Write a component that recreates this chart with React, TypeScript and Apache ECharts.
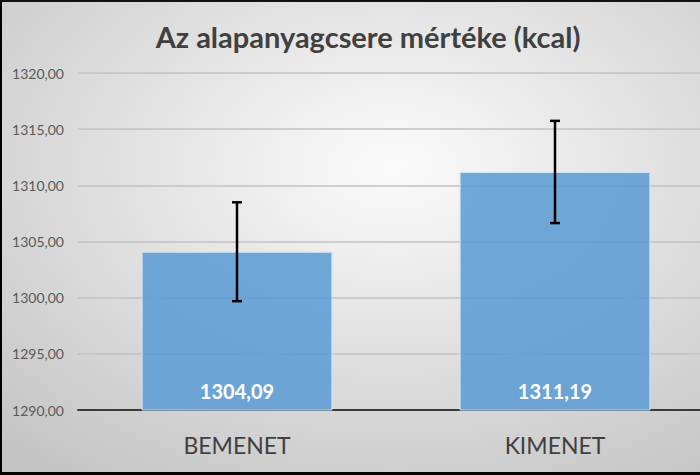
import React, { useEffect, useRef } from "react";
import * as echarts from "echarts";

const categories = ["BEMENET", "KIMENET"];
const values = [1304.09, 1311.19];
const errors = [4.4, 4.55];
const yTicks = { min: 1290, max: 1320, interval: 5 };
const titleText = "Az alapanyagcsere mértéke (kcal)";

const FONT = "Lato, 'Open Sans', sans-serif";

export default function App() {
  const ref = useRef<HTMLDivElement>(null);
  useEffect(() => {
    if (!ref.current) return;
    const chart = echarts.init(ref.current, null, { renderer: "svg" });
    const fmt = (v: number) => v.toFixed(2).replace(".", ",");
    chart.setOption({
      animation: false,
      backgroundColor: {
        type: "radial",
        x: 0.55,
        y: 0.35,
        r: 0.8,
        colorStops: [
          { offset: 0, color: "#fbfbfb" },
          { offset: 1, color: "#c4c4c4" },
        ],
      },
      title: {
        text: titleText,
        left: 363,
        top: 17,
        textAlign: "center",
        textStyle: { fontFamily: FONT, fontSize: 29, fontWeight: "bold", color: "#404040" },
      },
      grid: { left: 78, top: 73, right: 0, bottom: 65, containLabel: false },
      xAxis: {
        type: "category",
        data: categories,
        axisLine: { lineStyle: { color: "#3a3a3a", width: 2 } },
        axisTick: { show: false },
        axisLabel: { fontFamily: FONT, fontSize: 23, color: "#404040", margin: 23 },
      },
      yAxis: {
        type: "value",
        min: yTicks.min,
        max: yTicks.max,
        interval: yTicks.interval,
        axisLine: { show: false },
        axisTick: { show: false },
        axisLabel: { fontFamily: FONT, fontSize: 14, color: "#595959", margin: 14, formatter: fmt },
        splitLine: { lineStyle: { color: "#c2c2c2", width: 1.5 } },
      },
      series: [
        {
          type: "bar",
          data: values,
          barWidth: "60%",
          itemStyle: { color: "rgba(91,155,213,0.86)", borderColor: "#d4e4f4", borderWidth: 1 },
          label: {
            show: true,
            position: "insideBottom",
            distance: 10,
            formatter: (p: any) => fmt(p.value),
            fontFamily: FONT,
            fontSize: 20,
            fontWeight: "bold",
            color: "#ffffff",
          },
          z: 2,
        },
        {
          type: "custom",
          data: values.map((v, i) => [i, v - errors[i], v + errors[i]]),
          z: 5,
          renderItem: (params: any, api: any) => {
            const i = api.value(0);
            const lo = api.coord([i, api.value(1)]);
            const hi = api.coord([i, api.value(2)]);
            const cap = 5;
            const style = { stroke: "#000", lineWidth: 2.5 };
            return {
              type: "group",
              children: [
                { type: "line", shape: { x1: hi[0], y1: hi[1], x2: lo[0], y2: lo[1] }, style },
                { type: "line", shape: { x1: hi[0] - cap, y1: hi[1], x2: hi[0] + cap, y2: hi[1] }, style },
                { type: "line", shape: { x1: lo[0] - cap, y1: lo[1], x2: lo[0] + cap, y2: lo[1] }, style },
              ],
            };
          },
        },
      ],
      graphic: [
        { type: "rect", z: 100, shape: { x: 0, y: 0, width: 2, height: 475 }, style: { fill: "#000" } },
        { type: "rect", z: 100, shape: { x: 0, y: 0, width: 714, height: 2 }, style: { fill: "#111" } },
        { type: "rect", z: 100, shape: { x: 0, y: 472, width: 714, height: 3 }, style: { fill: "#000" } },
      ],
    });
    return () => chart.dispose();
  }, []);
  return (
    <div
      style={{ position: "absolute", left: 0, top: 0, width: 700, height: 475, overflow: "hidden" }}
    >
      <div ref={ref} style={{ width: 714, height: 475 }} />
    </div>
  );
}
